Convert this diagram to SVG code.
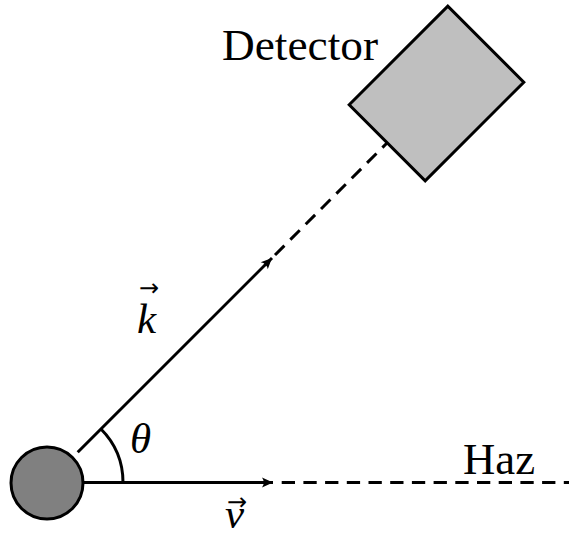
<svg xmlns="http://www.w3.org/2000/svg" width="569" height="536" viewBox="0 0 569 536">
  <defs>
    <style>
      .ln { stroke: #000; stroke-width: 3; fill: none; }
      .dash { stroke: #000; stroke-width: 3; fill: none; stroke-dasharray: 13.3 8.4; }
      .lbl { font-family: "Liberation Serif", "DejaVu Serif", serif; font-size: 45px; fill: #000; }
      .math { font-family: "Liberation Serif", "DejaVu Serif", serif; font-style: italic; font-size: 43px; fill: #000; }
      .vec { font-family: "DejaVu Sans", sans-serif; font-size: 24px; fill: #000; }
    </style>
    <marker id="arr" viewBox="-12 -6 13 12" refX="0" refY="0" markerWidth="13" markerHeight="12" markerUnits="userSpaceOnUse" orient="auto">
      <path d="M0,0 L-11,-5 Q-7.5,0 -11,5 Z" fill="#000"/>
    </marker>
  </defs>
  <rect width="569" height="536" fill="#fff"/>

  <g id="connectors">
    <path class="ln" d="M83.3,482.5 L273,482.5" marker-end="url(#arr)"/>
    <path class="dash" d="M281.7,482.5 L569,482.5"/>
    <path class="ln" d="M77.7,452.3 L272,258" marker-end="url(#arr)"/>
    <path class="dash" d="M275,255 L387.2,142.8"/>
    <path id="angle" class="ln" d="M123,482.5 A76,76 0 0 0 100.7,428.8"/>
  </g>

  <g id="particle">
    <circle cx="47" cy="483" r="36" fill="#808080" stroke="#000" stroke-width="3"/>
  </g>

  <g id="detector">
    <polygon points="349.2,104.8 447.8,6.2 523.8,82.2 425.2,180.8" fill="#bfbfbf" stroke="#000" stroke-width="3" stroke-linejoin="miter"/>
    <text class="lbl" x="222" y="60" textLength="156" lengthAdjust="spacingAndGlyphs">Detector</text>
  </g>

  <g id="beam-label">
    <text class="lbl" x="463" y="474" textLength="72" lengthAdjust="spacingAndGlyphs">Haz</text>
  </g>

  <g id="labels">
    <text class="math" x="137" y="333">k</text>
    <text class="vec" x="139" y="296">→</text>
    <text class="math" x="130" y="453">θ</text>
    <text class="math" x="225" y="528">v</text>
    <text class="vec" x="227" y="510">→</text>
  </g>
</svg>
